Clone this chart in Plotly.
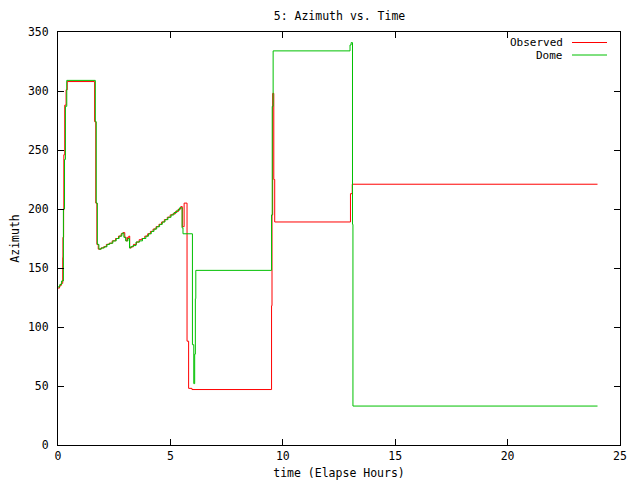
import plotly.graph_objects as go

# elapsed hours / azimuth (degrees), drawn as steps
observed_time = [
    0.00, 0.07, 0.14, 0.21, 0.22, 0.25, 0.26, 0.30, 0.36, 0.41,
    1.63, 1.68, 1.73, 1.79, 1.91, 2.03, 2.15, 2.27, 2.41, 2.56,
    2.69, 2.81, 2.89, 2.97, 3.03, 3.09, 3.15, 3.19, 3.26, 3.36,
    3.49, 3.61, 3.73, 3.86, 3.99, 4.11, 4.23, 4.36, 4.49, 4.61,
    4.73, 4.86, 4.99, 5.11, 5.23, 5.36, 5.46, 5.53, 5.61, 5.74,
    5.81, 5.96, 9.50, 9.52, 9.55, 9.60, 9.64, 13.01, 13.09, 24.00,
]
observed_azimuth = [
    133, 135, 137, 159, 176, 199, 246, 288, 301, 308,
    274, 205, 170, 166, 167, 168, 170, 171, 173, 175,
    177, 179, 180, 176, 173, 176, 177, 167, 168, 170,
    172, 174, 175, 177, 179, 181, 183, 185, 187, 189,
    191, 193, 195, 196, 198, 200, 202, 185, 205, 88,
    48, 47, 118, 195, 298, 225, 189, 213, 221, 221,
]

dome_time = [
    0.00, 0.08, 0.16, 0.24, 0.29, 0.33, 0.39, 1.66, 1.70, 1.75,
    1.82, 1.93, 2.06, 2.18, 2.30, 2.44, 2.59, 2.72, 2.84, 2.93,
    3.01, 3.11, 3.18, 3.23, 3.33, 3.47, 3.63, 3.76, 3.91, 4.03,
    4.15, 4.27, 4.39, 4.52, 4.64, 4.76, 4.89, 5.03, 5.16, 5.29,
    5.41, 5.52, 5.56, 5.98, 6.04, 6.08, 6.11, 6.13, 9.50, 9.53,
    9.57, 12.99, 13.04, 13.10, 13.12, 24.00,
]
dome_azimuth = [
    134, 136, 139, 200, 242, 287, 309, 274, 205, 170,
    166, 167, 168, 170, 171, 173, 175, 177, 179.5, 176,
    173, 175, 167, 168, 169, 172, 173, 175, 177, 179,
    181, 183, 185, 187, 189, 191, 193, 195, 197, 199,
    201, 184, 179, 85, 52, 77, 124, 148, 195, 287,
    334, 339, 341, 187, 33, 33,
]

x_ticks = [0, 5, 10, 15, 20, 25]
y_ticks = [0, 50, 100, 150, 200, 250, 300, 350]
key_labels = ["Observed", "Dome"]

RED = "#ff0000"
GREEN = "#00c000"
FONT = "DejaVu Sans Mono"
SIZE = 11.5

fig = go.Figure()
fig.add_trace(go.Scatter(x=observed_time, y=observed_azimuth, mode="lines", name=key_labels[0],
                         line=dict(color=RED, width=1, shape="hv")))
fig.add_trace(go.Scatter(x=dome_time, y=dome_azimuth, mode="lines", name=key_labels[1],
                         line=dict(color=GREEN, width=1, shape="hv")))

axis_style = dict(
    showline=True, linecolor="black", linewidth=1, mirror="allticks",
    ticks="inside", ticklen=6, tickcolor="black", showgrid=False, zeroline=False,
    automargin=False, tickfont=dict(family=FONT, size=SIZE, color="black"),
)
fig.update_xaxes(range=[0, 25], tickvals=x_ticks,
                 title=dict(text="time (Elapse Hours)", standoff=7,
                            font=dict(family=FONT, size=SIZE, color="black")),
                 **axis_style)
fig.update_yaxes(range=[0, 350], tickvals=y_ticks, ticklabelstandoff=6,
                 title=dict(text="Azimuth", standoff=15,
                            font=dict(family=FONT, size=SIZE, color="black")),
                 **axis_style)

# gnuplot-style key: label on the left, line sample on the right
plot_w, plot_h = 562, 413
for i, (label, color) in enumerate(zip(key_labels, [RED, GREEN])):
    ypos = 1 - (10.5 + 12.5 * i) / plot_h
    fig.add_annotation(text=label, xref="paper", yref="paper", x=507 / plot_w, y=ypos,
                       xanchor="right", yanchor="middle", showarrow=False,
                       font=dict(family=FONT, size=11, color="black"))
    fig.add_shape(type="line", xref="paper", yref="paper",
                  x0=514 / plot_w, x1=549 / plot_w, y0=ypos, y1=ypos,
                  line=dict(color=color, width=1))

fig.update_layout(
    width=632, height=472,
    margin=dict(l=50, r=20, t=24, b=35),
    paper_bgcolor="white", plot_bgcolor="white",
    showlegend=False,
    title=dict(text="5: Azimuth vs. Time", x=331.5 / 632, xanchor="center",
               y=1 - 7.7 / 472, yanchor="middle", font=dict(family=FONT, size=SIZE, color="black")),
)

fig.write_html("out.html")
